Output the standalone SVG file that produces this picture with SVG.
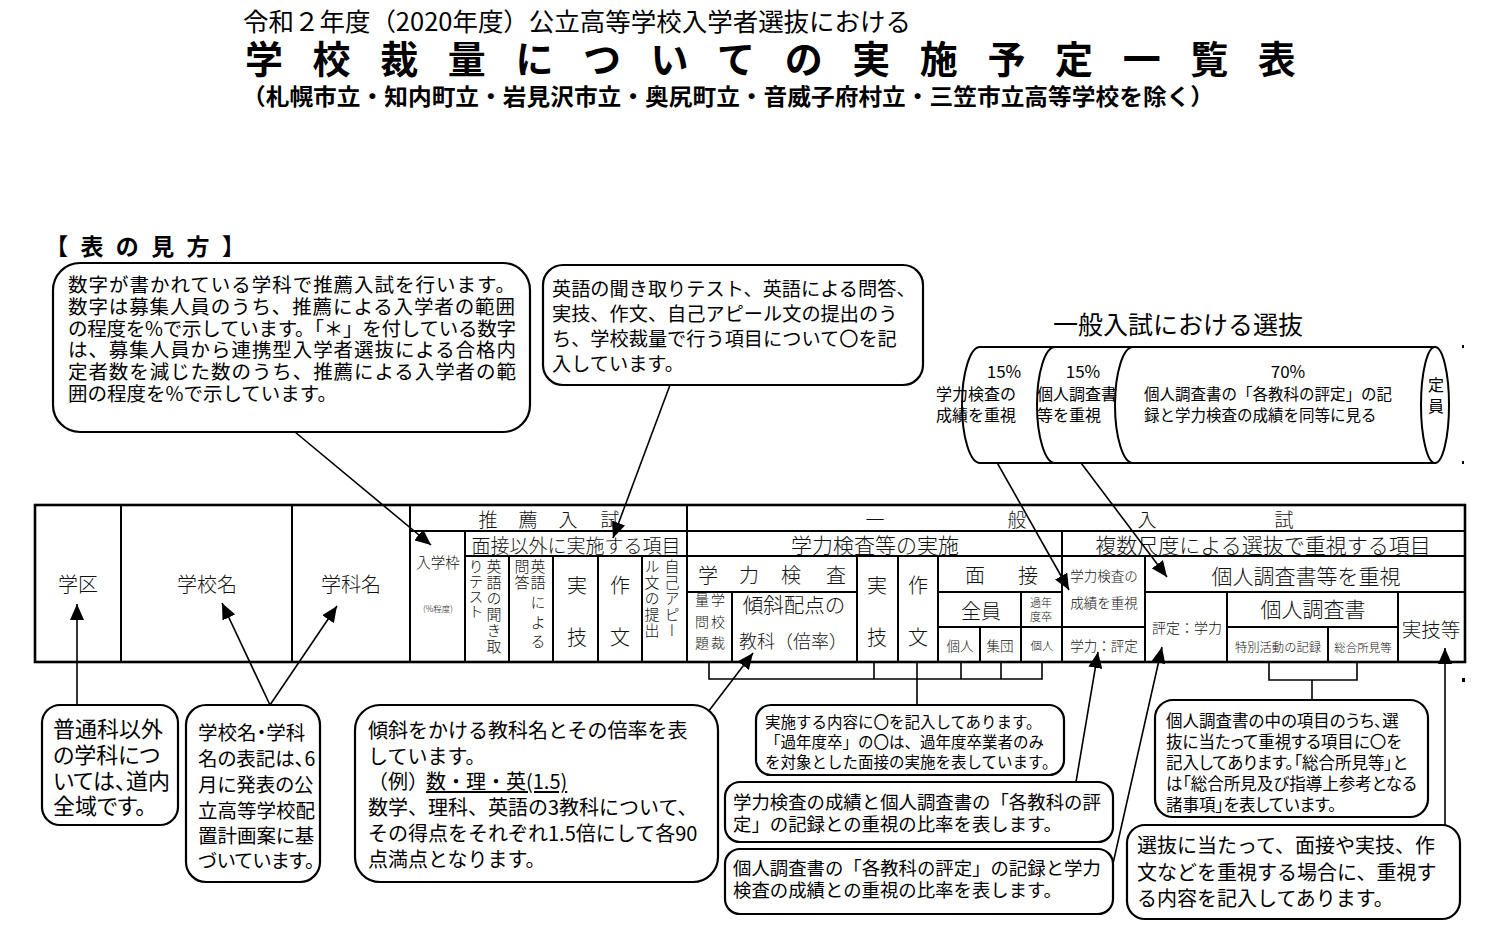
<svg xmlns="http://www.w3.org/2000/svg" width="1500" height="942" viewBox="0 0 1500 942">
<style>
.bg{fill:#fff}
.box{fill:#fff;stroke:#000;stroke-width:2.2}
.ln{fill:none;stroke:#000;stroke-width:1.6}
.tb{fill:none;stroke:#000;stroke-width:2}
.tbo{fill:none;stroke:#000;stroke-width:2.6}
.cyl{fill:#fff;stroke:#000;stroke-width:2}
text{font-family:"Noto Sans CJK JP","Noto Sans",sans-serif;fill:#000}
.t{font-family:"Noto Sans CJK JP","Noto Sans",sans-serif;font-weight:300;fill:#111}
.c{dominant-baseline:central}
.m{text-anchor:middle}
.v{writing-mode:vertical-rl}
.palt{font-feature-settings:"palt" 1}
</style>
<defs>
<marker id="ah" markerUnits="userSpaceOnUse" markerWidth="17" markerHeight="14" refX="16" refY="7" orient="auto">
<path d="M0,0 L16,7 L0,14 Z" fill="#000"/>
</marker>
</defs>
<rect class="bg" x="0" y="0" width="1500" height="942"/>

<g id="title">
<text class="c" x="243" y="20" font-size="25" textLength="668" lengthAdjust="spacingAndGlyphs">令和２年度（2020年度）公立高等学校入学者選抜における</text>
<text class="c" x="245" y="56" font-size="38" font-weight="bold" letter-spacing="29.6">学校裁量についての実施予定一覧表</text>
<text class="c" x="242" y="95" font-size="23" font-weight="bold" textLength="972" lengthAdjust="spacingAndGlyphs">（札幌市立・知内町立・岩見沢市立・奥尻町立・音威子府村立・三笠市立高等学校を除く）</text>
<text class="c" x="45" y="245" font-size="23" font-weight="bold" textLength="200" lengthAdjust="spacing">【 表 の 見 方 】</text>
</g>

<g id="connectors">
<line class="ln" x1="295" y1="432" x2="431" y2="545" marker-end="url(#ah)"/>
<line class="ln" x1="670" y1="385" x2="613" y2="538" marker-end="url(#ah)"/>
<line class="ln" x1="986" y1="443" x2="1069" y2="590" marker-end="url(#ah)"/>
<line class="ln" x1="1066" y1="443" x2="1167" y2="577" marker-end="url(#ah)"/>
<line class="ln" x1="77" y1="705" x2="77" y2="604" marker-end="url(#ah)"/>
<line class="ln" x1="270" y1="705" x2="222" y2="603" marker-end="url(#ah)"/>
<line class="ln" x1="270" y1="705" x2="337" y2="606" marker-end="url(#ah)"/>
<line class="ln" x1="708" y1="712" x2="753" y2="653" marker-end="url(#ah)"/>
<path class="ln" d="M709,662 V679 H1042 V662 M874,662 V679 M917,662 V705 M961,662 V679 M1001,662 V679"/>
<line class="ln" x1="1076" y1="782" x2="1098" y2="652" marker-end="url(#ah)"/>
<line class="ln" x1="1112" y1="868" x2="1162" y2="647" marker-end="url(#ah)"/>
<path class="ln" d="M1269,662 V680 H1357 V662 M1312,680 V700"/>
<line class="ln" x1="1445" y1="825" x2="1445" y2="648" marker-end="url(#ah)"/>
</g>

<g id="callout-suisen">
<rect class="box" x="53" y="263" width="477" height="169" rx="27"/>
<text class="c" font-size="19.5">
<tspan x="68" y="283" textLength="447" lengthAdjust="spacing">数字が書かれている学科で推薦入試を行います。</tspan>
<tspan x="68" y="305" textLength="447" lengthAdjust="spacing">数字は募集人員のうち、推薦による入学者の範囲</tspan>
<tspan x="68" y="327" textLength="448" lengthAdjust="spacing">の程度を%で示しています。「＊」を付している数字</tspan>
<tspan x="68" y="348" textLength="448" lengthAdjust="spacing">は、募集人員から連携型入学者選抜による合格内</tspan>
<tspan x="68" y="370" textLength="448" lengthAdjust="spacing">定者数を減じた数のうち、推薦による入学者の範</tspan>
<tspan x="68" y="392">囲の程度を%で示しています。</tspan>
</text>
</g>

<g id="callout-items">
<rect class="box" x="543" y="265" width="380" height="120" rx="20"/>
<text class="c" font-size="19.2">
<tspan x="552" y="288">英語の聞き取りテスト、英語による問答、</tspan>
<tspan x="552" y="313">実技、作文、自己アピール文の提出のう</tspan>
<tspan x="552" y="338">ち、学校裁量で行う項目について〇を記</tspan>
<tspan x="552" y="363">入しています。</tspan>
</text>
</g>

<g id="cylinder">
<text class="c" x="1053" y="323" font-size="25">一般入試における選抜</text>
<path class="cyl" d="M980,347 H1435 V463 H980 A18,58 0 0,1 980,347 Z"/>
<path class="cyl" d="M1055,347 A18,58 0 0,0 1055,463"/>
<path class="cyl" d="M1133,347 A18,58 0 0,0 1133,463"/>
<ellipse class="cyl" cx="1435" cy="405" rx="14" ry="58"/>
<text class="c m" x="1004" y="370" font-size="17">15%</text>
<text class="c" font-size="16"><tspan x="936" y="393">学力検査の</tspan><tspan x="936" y="414">成績を重視</tspan></text>
<text class="c m" x="1083" y="370" font-size="17">15%</text>
<text class="c" font-size="16"><tspan x="1037" y="393">個人調査書</tspan><tspan x="1037" y="414">等を重視</tspan></text>
<text class="c m" x="1288" y="370" font-size="17">70%</text>
<text class="c" font-size="15.5"><tspan x="1144" y="393">個人調査書の「各教科の評定」の記</tspan><tspan x="1144" y="414">録と学力検査の成績を同等に見る</tspan></text>
<text class="c m" font-size="16"><tspan x="1436" y="384">定</tspan><tspan x="1436" y="405">員</tspan></text>
</g>

<g id="table">
<rect class="tbo" x="35" y="505" width="1430" height="157"/>
<path class="tb" d="M121,505 V662 M292,505 V662 M410,505 V662 M687,505 V662
M410,531 H1465 M465,556 H1465 M465,531 V662
M509,556 V662 M553,556 V662 M598,556 V662 M642,556 V662
M687,592 H857 M732,592 V662 M857,556 V662 M898,556 V662 M938,556 V662
M938,592 H1062 M938,627 H1062 M980,627 V662 M1021,592 V662 M1062,531 V662
M1062,627 H1145 M1145,556 V662 M1145,592 H1465 M1227,592 V662 M1227,627 H1398 M1328,627 V662 M1398,592 V662"/>
<text class="t c m" font-size="20" y="583"><tspan x="78">学区</tspan><tspan x="207">学校名</tspan><tspan x="351">学科名</tspan></text>
<text class="t c m" font-size="19" y="518"><tspan x="488">推</tspan><tspan x="528">薦</tspan><tspan x="568">入</tspan><tspan x="610">試</tspan><tspan x="875">一</tspan><tspan x="1017">般</tspan><tspan x="1147">入</tspan><tspan x="1284">試</tspan></text>
<text class="t c m" x="576" y="544" font-size="19">面接以外に実施する項目</text>
<text class="t c m" x="875" y="544" font-size="21">学力検査等の実施</text>
<text class="t c m" x="1263" y="544" font-size="21">複数尺度による選抜で重視する項目</text>
<text class="t c m" x="438" y="561" font-size="14.5">入学枠</text>
<text class="t c m" x="438" y="608" font-size="8.5">(%程度)</text>
<text class="t v" x="494" y="559" font-size="15" letter-spacing="1">英語の聞き取</text>
<text class="t v" x="476" y="559" font-size="15">りテスト</text>
<text class="t v" x="538" y="559" font-size="15" letter-spacing="0.5">英語</text>
<text class="t v" x="538" y="595" font-size="15" letter-spacing="4.5">による</text>
<text class="t v" x="522" y="559" font-size="15" letter-spacing="0.5">問答</text>
<text class="t c m" font-size="20"><tspan x="577" y="584">実</tspan><tspan x="577" y="636">技</tspan><tspan x="620" y="584">作</tspan><tspan x="620" y="636">文</tspan><tspan x="877" y="584">実</tspan><tspan x="877" y="636">技</tspan><tspan x="918" y="584">作</tspan><tspan x="918" y="636">文</tspan></text>
<text class="t v" x="672" y="559" font-size="15" letter-spacing="1">自己アピー</text>
<text class="t v" x="652" y="559" font-size="15" letter-spacing="1">ル文の提出</text>
<text class="t v" x="718" y="593" font-size="14" letter-spacing="7.5">学校裁</text>
<text class="t v" x="702" y="593" font-size="14" letter-spacing="7.5">量問題</text>
<text class="t c m" font-size="20" y="574"><tspan x="708">学</tspan><tspan x="749">力</tspan><tspan x="791">検</tspan><tspan x="836">査</tspan><tspan x="975">面</tspan><tspan x="1028">接</tspan></text>
<text class="t c m" x="794" y="604" font-size="20.5">傾斜配点の</text>
<text class="t c m" x="793" y="640" font-size="18">教科（倍率）</text>
<text class="t c m" x="981" y="610" font-size="20">全員</text>
<text class="t c m" font-size="11"><tspan x="1041" y="602">過年</tspan><tspan x="1041" y="616">度卒</tspan></text>
<text class="t c m" font-size="13.5" y="645"><tspan x="960">個人</tspan><tspan x="1000">集団</tspan></text>
<text class="t c m" x="1042" y="645" font-size="11.5">個人</text>
<text class="t c m" font-size="13.5"><tspan x="1104" y="575">学力検査の</tspan><tspan x="1104" y="602">成績を重視</tspan><tspan x="1104" y="645">学力：評定</tspan></text>
<text class="t c m" x="1306" y="575" font-size="21">個人調査書等を重視</text>
<text class="t c m" x="1187" y="627" font-size="14">評定：学力</text>
<text class="t c m" x="1313" y="608" font-size="21">個人調査書</text>
<text class="t c m" x="1278" y="647" font-size="12.3">特別活動の記録</text>
<text class="t c m" x="1363" y="647" font-size="11.5">総合所見等</text>
<text class="t c m" x="1431" y="628" font-size="19.5">実技等</text>
</g>

<g id="note-gakku">
<rect class="box" x="42" y="705" width="136" height="120" rx="18"/>
<text class="c palt" font-size="22"><tspan x="53" y="727">普通科以外</tspan><tspan x="53" y="753">の学科につ</tspan><tspan x="53" y="779">いては、道内</tspan><tspan x="53" y="804">全域です。</tspan></text>
</g>

<g id="note-school">
<rect class="box" x="186" y="705" width="134" height="177" rx="20"/>
<text class="c palt" font-size="19.5"><tspan x="198" y="731">学校名・学科</tspan><tspan x="198" y="757">名の表記は、6</tspan><tspan x="198" y="783">月に発表の公</tspan><tspan x="198" y="809">立高等学校配</tspan><tspan x="198" y="834">置計画案に基</tspan><tspan x="198" y="859">づいています。</tspan></text>
</g>

<g id="note-keisha">
<rect class="box" x="355" y="705" width="363" height="177" rx="25"/>
<text class="c" font-size="20"><tspan x="368" y="729">傾斜をかける教科名とその倍率を表</tspan><tspan x="368" y="755">しています。</tspan><tspan x="368" y="780">（例）</tspan><tspan x="426" y="780" text-decoration="underline">数・理・英(1.5)</tspan><tspan x="368" y="806">数学、理科、英語の3教科について、</tspan><tspan x="368" y="832">その得点をそれぞれ1.5倍にして各90</tspan><tspan x="368" y="858">点満点となります。</tspan></text>
</g>

<g id="note-mensetsu">
<rect class="box" x="756" y="705" width="308" height="70" rx="15"/>
<text class="c" font-size="15.5"><tspan x="765" y="721">実施する内容に〇を記入してあります。</tspan><tspan x="765" y="741">「過年度卒」の〇は、過年度卒業者のみ</tspan><tspan x="765" y="761">を対象とした面接の実施を表しています。</tspan></text>
</g>

<g id="note-gakuryoku">
<rect class="box" x="725" y="782" width="388" height="60" rx="15"/>
<text class="c" font-size="18.4"><tspan x="733" y="801">学力検査の成績と個人調査書の「各教科の評</tspan><tspan x="733" y="823">定」の記録との重視の比率を表します。</tspan></text>
</g>

<g id="note-hyotei">
<rect class="box" x="725" y="849" width="388" height="65" rx="15"/>
<text class="c" font-size="18.4"><tspan x="733" y="867">個人調査書の「各教科の評定」の記録と学力</tspan><tspan x="733" y="889">検査の成績との重視の比率を表します。</tspan></text>
</g>

<g id="note-chosasho">
<rect class="box" x="1155" y="700" width="273" height="117" rx="18"/>
<text class="c palt" font-size="16.5"><tspan x="1166" y="720">個人調査書の中の項目のうち、選</tspan><tspan x="1166" y="741">抜に当たって重視する項目に〇を</tspan><tspan x="1166" y="762">記入してあります。「総合所見等」と</tspan><tspan x="1166" y="783">は「総合所見及び指導上参考となる</tspan><tspan x="1166" y="804">諸事項」を表しています。</tspan></text>
</g>

<g id="note-jitsugi">
<rect class="box" x="1127" y="825" width="333" height="94" rx="18"/>
<text class="c" font-size="20"><tspan x="1137" y="844">選抜に当たって、面接や実技、作</tspan><tspan x="1137" y="871">文などを重視する場合に、重視す</tspan><tspan x="1137" y="897">る内容を記入してあります。</tspan></text>
</g>

<g id="marks">
<rect x="1462" y="345" width="2" height="3" fill="#000"/>
<rect x="1462" y="461" width="2" height="3" fill="#000"/>
<rect x="1462" y="678" width="3" height="4" fill="#000"/>
</g>
</svg>
